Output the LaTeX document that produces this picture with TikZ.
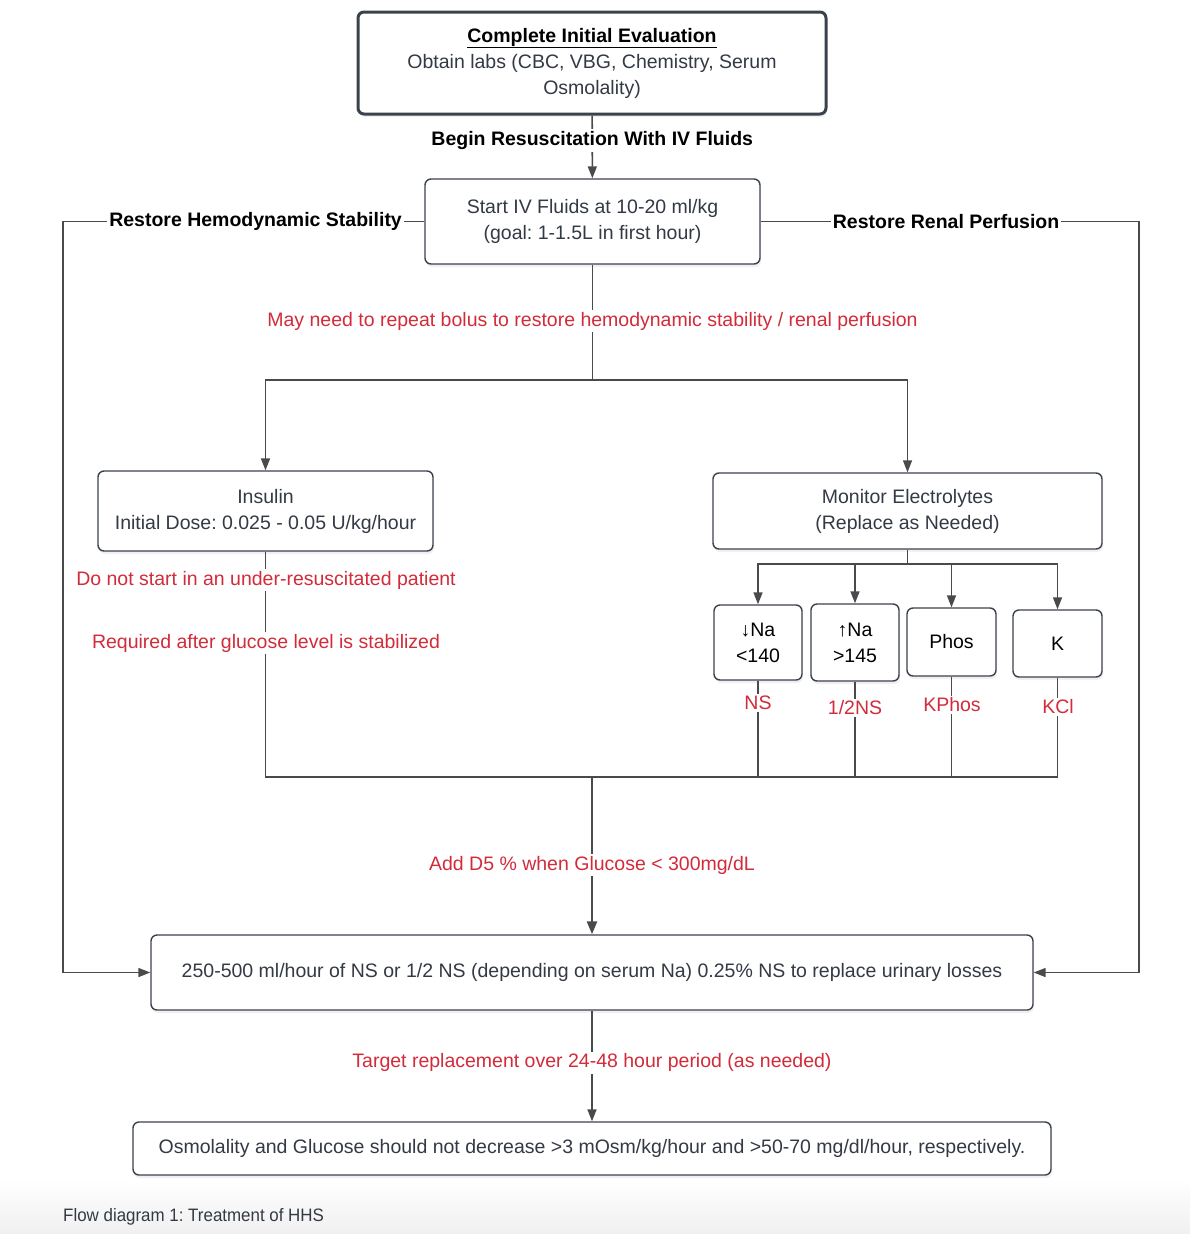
\documentclass[tikz,border=0pt]{standalone}
\usepackage{fontspec}
\setmainfont{Liberation Sans}
\usepackage{graphicx}
\usetikzlibrary{shadows,arrows.meta}
\definecolor{boxc}{HTML}{3B424C}
\definecolor{txtc}{HTML}{333A45}
\definecolor{redc}{HTML}{D22B3A}
\definecolor{linec}{HTML}{4A4A4A}
\frenchspacing
\begin{document}
\begin{tikzpicture}[x=1pt,y=-1pt,
  font=\fontsize{19.5}{26}\selectfont,
  box/.style={draw=boxc,line width=1.4pt,rounded corners=6pt,fill=white,text=txtc,align=center,inner sep=0pt,
    drop shadow={opacity=0.12,shadow xshift=1pt,shadow yshift=-3pt}},
  conn/.style={draw=linec,line width=1.6pt},
  arr/.style={conn,-{Triangle[length=12pt,width=9pt]}},
  redlbl/.style={text=redc,fill=white,inner sep=2pt},
  blk/.style={text=black,fill=white,inner sep=2pt,font=\fontsize{19.5}{26}\selectfont\bfseries},
]
\useasboundingbox (0,0) rectangle (1190,1234);
\shade[top color=white,bottom color=black!6] (0,1180) rectangle (1190,1234);

% boxes
\node[box,line width=3pt,minimum width=468pt,minimum height=102pt] (top) at (592,63)
  {\textcolor{black}{\bfseries\underline{Complete Initial Evaluation}}\\Obtain labs (CBC, VBG, Chemistry, Serum\\Osmolality)};
\node[box,minimum width=335pt,minimum height=85pt] (iv) at (592.5,221.5)
  {Start IV Fluids at 10-20 ml/kg\\(goal: 1-1.5L in first hour)};
\node[box,minimum width=335pt,minimum height=80pt] (ins) at (265.5,511)
  {Insulin\\Initial Dose: 0.025 - 0.05 U/kg/hour};
\node[box,minimum width=389pt,minimum height=76pt] (ele) at (907.5,511)
  {Monitor Electrolytes\\(Replace as Needed)};
\node[box,minimum width=88pt,minimum height=75pt] (na1) at (758,642.5) {\textcolor{black}{↓Na}\\\textcolor{black}{<140}};
\node[box,minimum width=88pt,minimum height=77pt] (na2) at (855,642.5) {\textcolor{black}{↑Na}\\\textcolor{black}{>145}};
\node[box,minimum width=89pt,minimum height=68pt] (ph) at (951.5,642) {\textcolor{black}{Phos}};
\node[box,minimum width=89pt,minimum height=67pt] (kk) at (1057.5,643.5) {\textcolor{black}{K}};
\node[box,minimum width=882pt,minimum height=75pt] (big) at (592,972.5)
  {250-500 ml/hour of NS or 1/2 NS (depending on serum Na) 0.25\% NS to replace urinary losses};
\node[box,minimum width=918pt,minimum height=53pt] (last) at (592,1148.5)
  {Osmolality and Glucose should not decrease >3 mOsm/kg/hour and >50-70 mg/dl/hour, respectively.};

% coordinates
\coordinate (lc) at (63,221.5);
\coordinate (rc) at (1139,221.5);
\coordinate (split) at (592.5,380);
\coordinate (es) at (907.5,564);
\coordinate (m) at (592,777);

% connectors
\draw[arr] (top) -- node[blk,pos=0.4]{Begin Resuscitation With IV Fluids} (iv);
\draw[arr] (iv.west) -- node[blk,pos=0.467]{Restore Hemodynamic Stability} (lc) |- (big.west);
\draw[arr] (iv.east) -- node[blk,pos=0.49]{Restore Renal Perfusion} (rc) |- (big.east);
\draw[conn] (iv.south) -- node[redlbl,pos=0.49]{May need to repeat bolus to restore hemodynamic stability / renal perfusion} (split);
\draw[arr] (split) -| (ins.north);
\draw[arr] (split) -| (ele.north);
\draw[conn] (ins.south) |- (m);
\draw[conn] (ele.south) -- (es);
\draw[arr] (es) -| (na1.north);
\draw[arr] (es) -| (na2.north);
\draw[arr] (es) -| (ph.north);
\draw[arr] (es) -| (kk.north);
\draw[conn] (kk.south) |- (m);
\draw[conn] (ph.south) |- (m);
\draw[conn] (na2.south) |- (m);
\draw[conn] (na1.south) |- (m);
\draw[conn,line width=2.8pt] (m) -- (m -| ph.south);
\draw[arr,line width=2.6pt,-{Triangle[length=13pt,width=10pt]}] (m) -- node[redlbl,pos=0.56]{Add D5 \% when Glucose < 300mg/dL} (big.north);
\draw[arr] (big.south) -- node[redlbl,pos=0.47]{Target replacement over 24-48 hour period (as needed)} (last.north);

% red labels
\node[redlbl] (l1) at (266,580) {Do not start in an under-resuscitated patient};
\node[redlbl] (l2) at (266,643) {Required after glucose level is stabilized};
\node[redlbl] (n1) at (758,703) {NS};
\node[redlbl] (n2) at (855,708) {1/2NS};
\node[redlbl] (n3) at (952,705) {KPhos};
\node[redlbl] (n4) at (1058,707) {KCl};

% caption
\node[anchor=west,text=txtc,inner sep=0pt,font=\fontsize{18}{20}\selectfont] (cap) at (63,1217)
  {\scalebox{0.94}[1]{Flow diagram 1: Treatment of HHS}};
\end{tikzpicture}
\end{document}
